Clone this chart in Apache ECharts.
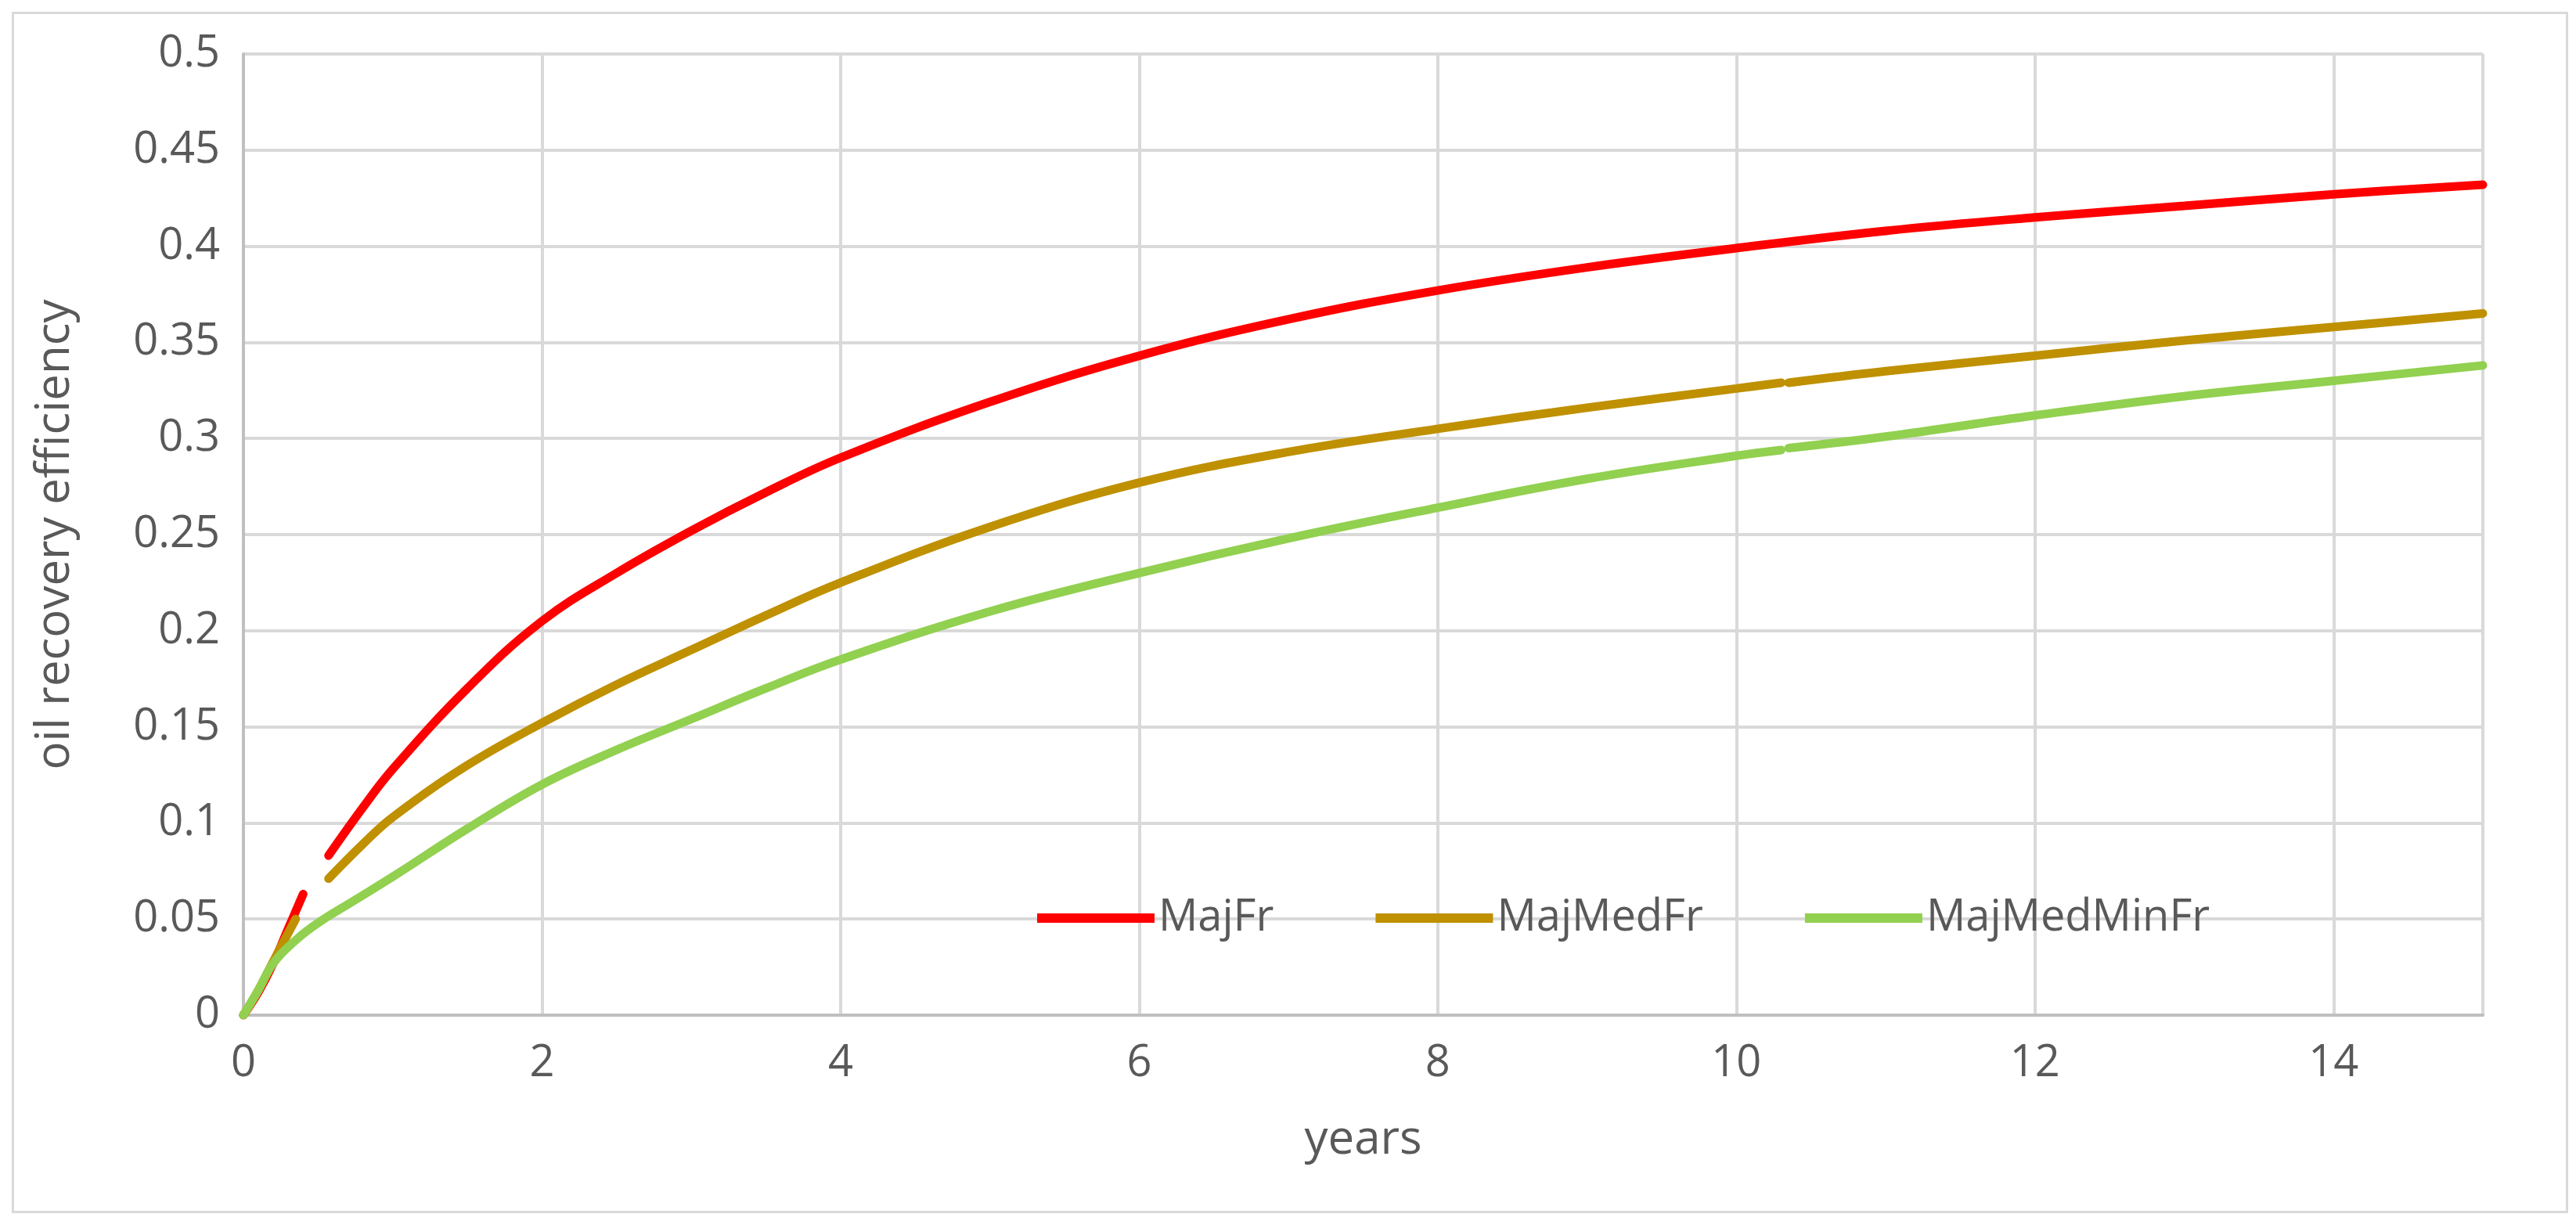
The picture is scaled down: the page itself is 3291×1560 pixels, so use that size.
<!DOCTYPE html>
<html lang="en" style="height: 100%">
<head>
  <meta charset="utf-8">
</head>
<body style="height: 100%; margin: 0; background-color:#ffffff;">
  <div id="container" style="height: 100%"></div>

<script src="https://fastly.jsdelivr.net/npm/echarts@6/dist/echarts.min.js"></script>

<script>
  var majFr = [[0, 0], [0.1, 0.012], [0.2, 0.027], [0.3, 0.045], [0.4, 0.063], [0.48, null],
    [0.57, 0.083], [0.8, 0.108], [1, 0.128], [1.5, 0.17], [2, 0.205], [2.5, 0.23], [3, 0.252],
    [3.5, 0.272], [4, 0.29], [5, 0.319], [6, 0.343], [7, 0.362], [8, 0.377], [9, 0.389],
    [10, 0.399], [11, 0.408], [12, 0.415], [13, 0.421], [14, 0.427], [15, 0.432]];
  var majMedFr = [[0, 0], [0.1, 0.013], [0.2, 0.028], [0.35, 0.05], [0.45, null],
    [0.57, 0.071], [0.8, 0.089], [1, 0.103], [1.5, 0.13], [2, 0.152], [2.5, 0.172], [3, 0.19],
    [3.5, 0.208], [4, 0.225], [5, 0.254], [6, 0.277], [7, 0.293], [8, 0.305], [9, 0.316],
    [10, 0.326], [10.3, 0.329], [10.32, null], [10.35, 0.329], [11, 0.335], [12, 0.343],
    [13, 0.351], [14, 0.358], [15, 0.365]];
  var majMedMinFr = [[0, 0], [0.1, 0.013], [0.2, 0.027], [0.35, 0.039], [0.5, 0.048],
    [0.75, 0.06], [1, 0.072], [1.5, 0.097], [2, 0.12], [2.5, 0.138], [3, 0.154], [3.5, 0.17],
    [4, 0.185], [5, 0.21], [6, 0.23], [7, 0.248], [8, 0.264], [9, 0.279], [10, 0.291],
    [10.3, 0.294], [10.32, null], [10.35, 0.295], [11, 0.301], [12, 0.312], [13, 0.322],
    [14, 0.33], [15, 0.338]];

  var font = '"Liberation Sans Narrow", "Open Sans", sans-serif';
  var dom = document.getElementById('container');
  var myChart = echarts.init(dom);

  function line(name, data, color) {
    return {
      name: name, type: 'line', data: data, smooth: 0.4, showSymbol: false,
      connectNulls: false, lineStyle: { width: 11, color: color, cap: 'round' },
      itemStyle: { color: color }
    };
  }

  var option = {
    animation: false,
    graphic: [{
      type: 'rect', left: 14, top: 14,
      shape: { width: 3291 - 28, height: 1560 - 28 },
      style: { fill: 'none', stroke: '#d9d9d9', lineWidth: 3 }
    }],
    grid: { left: 311, right: 119, top: 69, bottom: 263 },
    legend: {
      left: 1320, top: 1140, itemGap: 130, itemWidth: 150, itemHeight: 12,
      icon: 'rect',
      textStyle: { fontFamily: font, fontSize: 56, color: '#595959' },
      data: ['MajFr', 'MajMedFr', 'MajMedMinFr']
    },
    xAxis: {
      type: 'value', min: 0, max: 15, interval: 2,
      name: 'years', nameLocation: 'middle', nameGap: 130,
      nameTextStyle: { fontFamily: font, fontSize: 60, color: '#595959' },
      axisLine: { lineStyle: { color: '#bfbfbf', width: 4 } },
      axisTick: { show: false },
      axisLabel: { fontFamily: font, fontSize: 56, color: '#595959', margin: 34, showMaxLabel: false },
      splitLine: { show: true, lineStyle: { color: '#d9d9d9', width: 4 } }
    },
    yAxis: {
      type: 'value', min: 0, max: 0.5, interval: 0.05,
      name: 'oil recovery efficiency', nameLocation: 'middle', nameGap: 210,
      nameTextStyle: { fontFamily: font, fontSize: 60, color: '#595959' },
      axisLine: { show: true, lineStyle: { color: '#bfbfbf', width: 4 } },
      axisTick: { show: false },
      axisLabel: { fontFamily: font, fontSize: 56, color: '#595959', margin: 30 },
      splitLine: { lineStyle: { color: '#d9d9d9', width: 4 } }
    },
    series: [
      line('MajFr', majFr, '#ff0000'),
      line('MajMedFr', majMedFr, '#bf9000'),
      line('MajMedMinFr', majMedMinFr, '#92d050')
    ]
  };

  myChart.setOption(option);
  window.addEventListener('resize', myChart.resize);
</script>

</body>
</html>
